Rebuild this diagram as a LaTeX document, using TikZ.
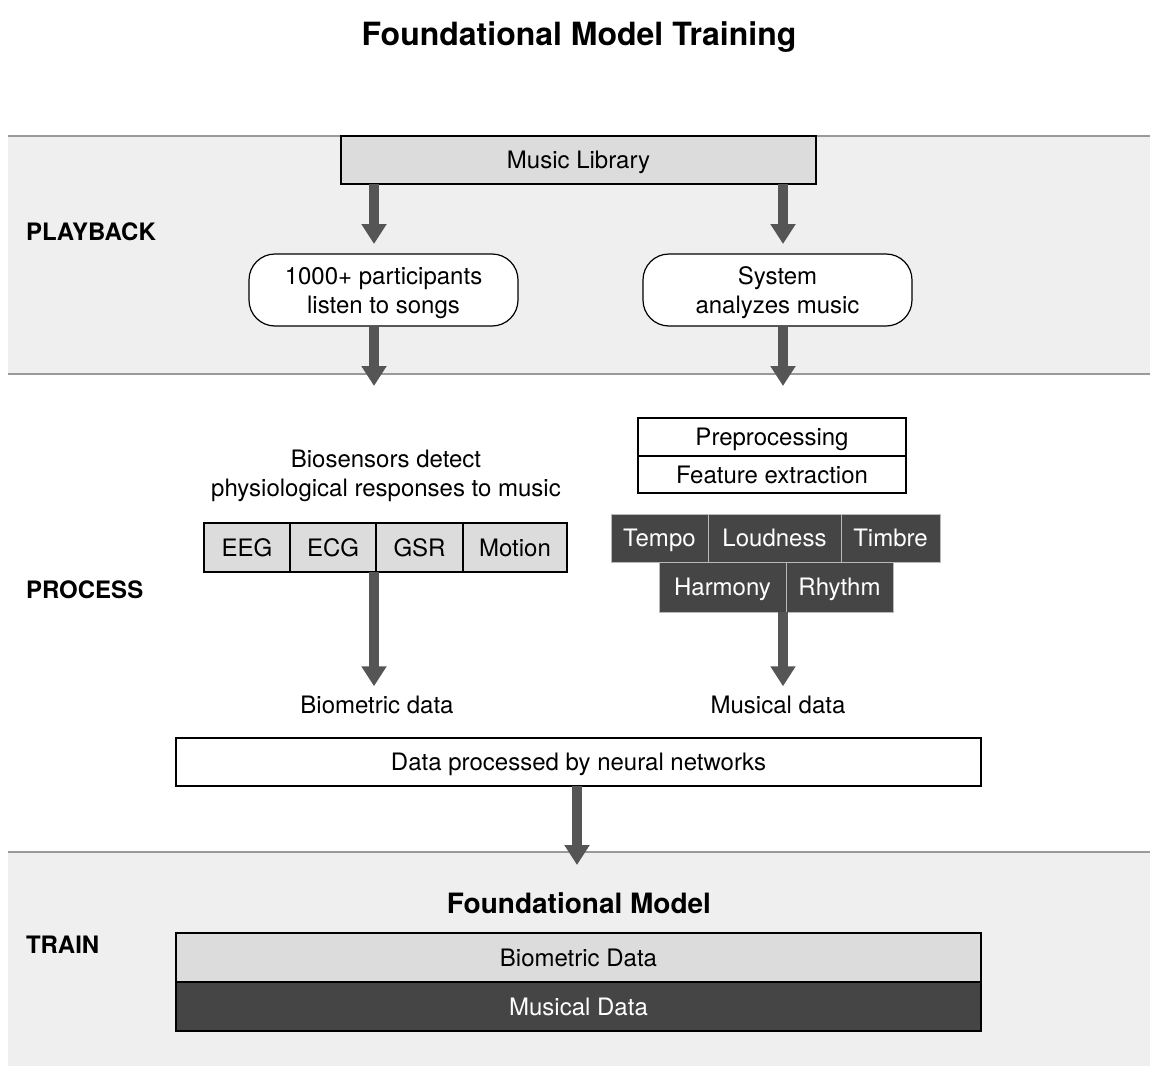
\documentclass[tikz,border=0pt]{standalone}
\usepackage{fontspec}
\setmainfont{TeX Gyre Heros}
\usetikzlibrary{arrows.meta, positioning}
\usepackage{xcolor}
\definecolor{bandgray}{HTML}{EFEFEF}
\definecolor{linegray}{HTML}{9A9A9A}
\definecolor{boxgray}{HTML}{DCDCDC}
\definecolor{darkbox}{HTML}{454545}
\definecolor{arrowgray}{HTML}{555555}

\begin{document}
\begin{tikzpicture}[x=1pt, y=-1pt,
    every node/.style={font=\fontsize{24}{29}\selectfont, inner sep=0pt, outer sep=0pt, text depth=0pt},
    box/.style={draw=black, line width=1.2pt, align=center},
    lightbox/.style={box, fill=boxgray},
    whitebox/.style={box, fill=white},
    pill/.style={box, fill=white, rounded corners=26pt, minimum width=269pt, minimum height=72pt},
    sensor/.style={lightbox, minimum height=49pt},
    darkcell/.style={draw=gray!55, line width=1pt, fill=darkbox, text=white},
    lane/.style={font=\fontsize{24}{29}\selectfont\bfseries, anchor=west},
    bigarrow/.style={arrowgray, line width=10pt, -{Triangle[length=20pt, width=24pt]}}]
        \useasboundingbox (0,0) rectangle (1158,1070);
        % Bands
        \fill[bandgray] (8,136) rectangle (1150,374);
        \fill[bandgray] (8,852) rectangle (1150,1066);
        \draw[linegray, line width=1.5pt] (8,136) -- (1150,136);
        \draw[linegray, line width=1.5pt] (8,374) -- (1150,374);
        \draw[linegray, line width=1.5pt] (8,852) -- (1150,852);
        % Title and lanes
        \node[font=\fontsize{32}{38}\selectfont\bfseries] (title) at (579,34) {Foundational Model Training};
        \node[lane] (playback) at (26,232) {PLAYBACK};
        \node[lane] (process) at (26,590) {PROCESS};
        \node[lane] (train) at (26,945) {TRAIN};
        % Playback
        \coordinate (colL) at (374,0);
        \coordinate (colR) at (783,0);
        \node[lightbox, minimum width=475pt, minimum height=48pt] (library) at (578.5,160) {Music Library};
        \node[pill] (listen) at (383.5,290) {1000+ participants\\listen to songs};
        \node[pill] (analyze) at (777.5,290) {System\\analyzes music};
        \draw[bigarrow, shorten >=10pt] (library.south -| colL) -- (listen.north -| colL);
        \draw[bigarrow, shorten >=10pt] (library.south -| colR) -- (analyze.north -| colR);
        \coordinate (bioin) at (374,386);
        \coordinate (musin) at (783,386);
        \draw[bigarrow] (listen.south -| colL) -- (bioin);
        \draw[bigarrow] (analyze.south -| colR) -- (musin);
        % Process: biosensors
        \node[align=center] (biosensors) at (386,473.5) {Biosensors detect\\physiological responses to music};
        \node[sensor, minimum width=86pt] (eeg) at (247,547.5) {EEG};
        \node[sensor, minimum width=86pt, right=0pt of eeg] (ecg) {ECG};
        \node[sensor, minimum width=87pt, right=0pt of ecg] (gsr) {GSR};
        \node[sensor, minimum width=104pt, right=0pt of gsr] (motion) {Motion};
        \node (biodata) at (377,705) {Biometric data};
        \draw[bigarrow, shorten >=10pt] (ecg.south east -| colL) -- (biodata.north -| colL);
        % Process: music analysis
        \node[whitebox, minimum width=268pt, minimum height=38pt] (prep) at (772,437) {Preprocessing};
        \node[whitebox, minimum width=268pt, minimum height=37pt, below=0pt of prep] (feature) {Feature extraction};
        \node[darkcell, minimum width=97pt, minimum height=48pt] (tempo) at (659.5,538) {Tempo};
        \node[darkcell, minimum width=133pt, minimum height=48pt, right=0pt of tempo] (loudness) {Loudness};
        \node[darkcell, minimum width=99pt, minimum height=48pt, right=0pt of loudness] (timbre) {Timbre};
        \node[darkcell, minimum width=127pt, minimum height=50pt] (harmony) at (722.5,587) {Harmony};
        \node[darkcell, minimum width=107pt, minimum height=50pt, right=0pt of harmony] (rhythm) {Rhythm};
        \node (musdata) at (778,705) {Musical data};
        \draw[bigarrow, shorten >=10pt] (harmony.south east -| colR) -- (musdata.north -| colR);
        % Neural networks
        \node[whitebox, minimum width=805pt, minimum height=48pt] (neural) at (578.5,762) {Data processed by neural networks};
        \coordinate (modelin) at (577,865);
        \draw[bigarrow] (neural.south -| modelin) -- (modelin);
        % Train
        \node[font=\fontsize{28}{34}\selectfont\bfseries] (model) at (579,903) {Foundational Model};
        \node[lightbox, minimum width=805pt, minimum height=49pt] (biometric) at (578.5,957.5) {Biometric Data};
        \node[box, fill=darkbox, text=white, minimum width=805pt, minimum height=49pt, below=0pt of biometric] (musical) {Musical Data};
    \end{tikzpicture}
\end{document}
